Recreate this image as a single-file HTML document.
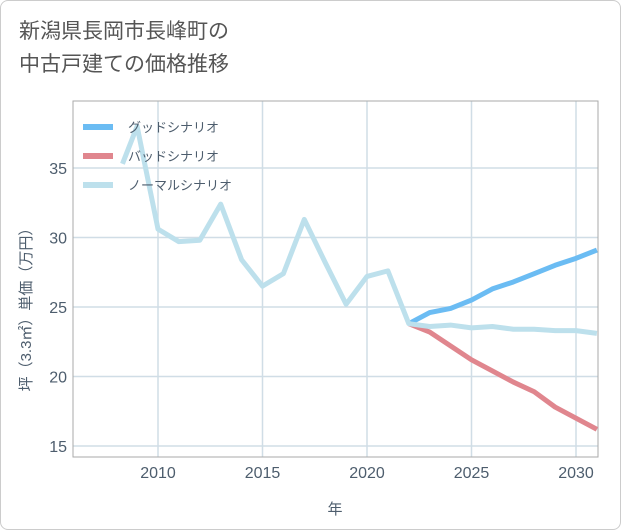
<!DOCTYPE html>
<html><head><meta charset="utf-8"><style>
body{margin:0;background:#fff;font-family:"Liberation Sans","Noto Sans CJK JP",sans-serif;}
#wrap{position:relative;width:619px;height:528px;border:1px solid #ccc;border-radius:8px;overflow:hidden;background:#fff}
#title{position:absolute;left:18px;top:14px;font-size:21px;line-height:33px;color:#555;}
</style></head><body>
<div id="wrap">
<div id="title">新潟県長岡市長峰町の<br>中古戸建ての価格推移</div>
<svg id="chart" width="621" height="530" style="position:absolute;left:0;top:0"></svg>
</div>
<script>
const normalYears=[2008.3,2009,2010,2011,2012,2013,2014,2015,2016,2017,2018,2019,2020,2021,2022,2023,2024,2025,2026,2027,2028,2029,2030,2031];
const normalVals=[35.3,38,30.6,29.7,29.8,32.4,28.4,26.5,27.4,31.3,28.2,25.2,27.2,27.6,23.8,23.6,23.7,23.5,23.6,23.4,23.4,23.3,23.3,23.1];
const futureYears=[2022,2023,2024,2025,2026,2027,2028,2029,2030,2031];
const goodVals=[23.8,24.6,24.9,25.5,26.3,26.8,27.4,28.0,28.5,29.1];
const badVals=[23.8,23.2,22.2,21.2,20.4,19.6,18.9,17.8,17.0,16.2];
const xTicks=[2010,2015,2020,2025,2030];
const yTicks=[15,20,25,30,35];
const legendLabels=["グッドシナリオ","バッドシナリオ","ノーマルシナリオ"];
const colors=["#6bbcf3","#e0868e","#bde0ec"];
const L=72,R=597,T=100,B=456;
const X=y=>157+(y-2010)*20.9;
const Y=v=>167+(35-v)*13.9;
const NS="http://www.w3.org/2000/svg";
const svg=document.getElementById('chart');
const TC='#4d5d6d';
function mk(t,a,p){const e=document.createElementNS(NS,t);for(const k in a)e.setAttribute(k,a[k]);(p||svg).appendChild(e);return e;}
const grid=mk('g',{});


xTicks.forEach(t=>{const l=mk('line',{x1:X(t),x2:X(t),y1:T,y2:B,stroke:'#d0dde6','stroke-width':1.5},grid);

const tx=mk('text',{x:X(t),y:B+21,'text-anchor':'middle','font-size':16,fill:TC});tx.textContent=t;
});
yTicks.forEach(t=>{const l=mk('line',{x1:L,x2:R,y1:Y(t),y2:Y(t),stroke:'#d0dde6','stroke-width':1.5},grid);

const tx=mk('text',{x:L-6,y:Y(t)+6,'text-anchor':'end','font-size':16,fill:TC});tx.textContent=t;
});
const fr=mk('rect',{x:L,y:T,width:R-L,height:B-T,fill:'none',stroke:'#aaa','stroke-width':1});

function line(xs,vs,c,name){const p=mk('polyline',{points:xs.map((x,i)=>X(x)+','+Y(vs[i])).join(' '),fill:'none',stroke:c,'stroke-width':5,'stroke-linejoin':'round'});
}
line(futureYears,goodVals,colors[0],'good-scenario-line');
line(futureYears,badVals,colors[1],'bad-scenario-line');
line(normalYears,normalVals,colors[2],'normal-scenario-line');
legendLabels.forEach((s,i)=>{const y=126+i*29;
const g=mk('g',{});
mk('line',{x1:82,x2:112,y1:y,y2:y,stroke:colors[i],'stroke-width':6},g);
const t=mk('text',{x:127,y:y+5,'font-size':13,fill:TC},g);t.textContent=s;});
const xt=mk('text',{x:334,y:513,'text-anchor':'middle','font-size':15,fill:TC});xt.textContent='年';

const yt=mk('text',{x:30,y:305,'text-anchor':'middle','font-size':15,fill:TC,transform:'rotate(-90 30 305)'});yt.textContent='坪（3.3㎡）単価（万円）';

</script>
</body></html>
